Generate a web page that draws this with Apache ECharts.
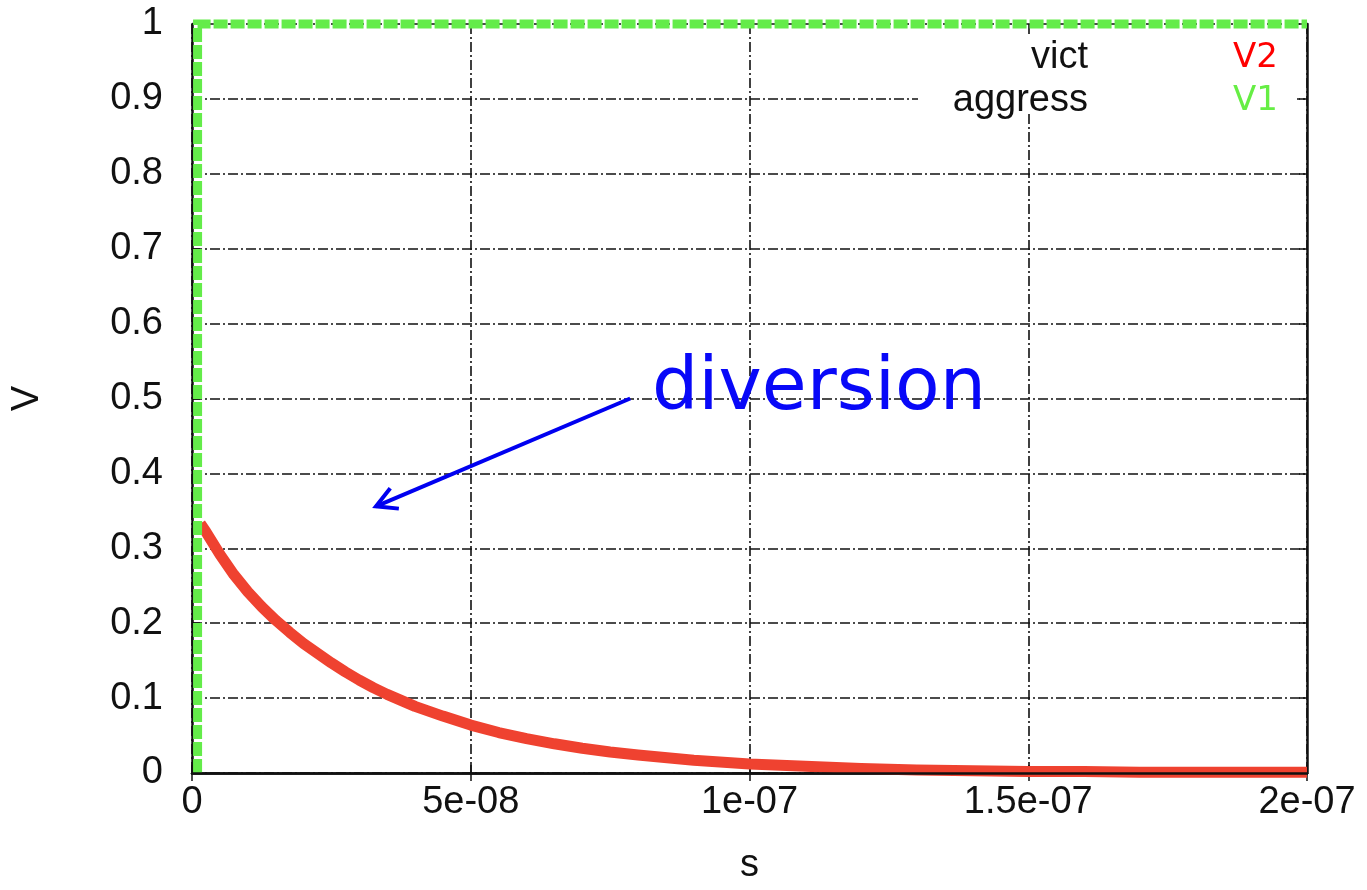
<!DOCTYPE html>
<html>
<head>
<meta charset="utf-8">
<script src="https://cdn.jsdelivr.net/npm/echarts@6/dist/echarts.min.js"></script>
<style>
html,body{margin:0;padding:0;background:#fff;}
#c{width:1367px;height:890px;}
</style>
</head>
<body>
<div id="c"></div>
<script>
// ---- data ----
const xTickLabels = ['0', '5e-08', '1e-07', '1.5e-07', '2e-07'];
const yTickLabels = ['0', '0.1', '0.2', '0.3', '0.4', '0.5', '0.6', '0.7', '0.8', '0.9', '1'];
// victim V2 (red) : time (s), voltage (V)
const v2Time = [1.5e-9, 2.5e-9, 5e-9, 7.5e-9, 1e-8, 1.25e-8, 1.5e-8, 1.75e-8, 2e-8, 2.25e-8, 2.5e-8, 2.75e-8, 3e-8, 3.25e-8, 3.5e-8, 3.75e-8, 4e-8, 4.5e-8, 5e-8, 5.5e-8, 6e-8, 6.5e-8, 7e-8, 7.5e-8, 8e-8, 9e-8, 1e-7, 1.1e-7, 1.2e-7, 1.3e-7, 1.4e-7, 1.5e-7, 1.6e-7, 1.7e-7, 1.8e-7, 1.9e-7, 2e-7];
const v2Volt = [0.333, 0.322, 0.292, 0.265, 0.242, 0.222, 0.204, 0.188, 0.173, 0.160, 0.147, 0.135, 0.124, 0.114, 0.105, 0.097, 0.089, 0.076, 0.064, 0.054, 0.046, 0.039, 0.033, 0.028, 0.024, 0.017, 0.012, 0.009, 0.006, 0.004, 0.003, 0.002, 0.002, 0.001, 0.001, 0.001, 0.001];
// aggressor V1 (green)
const v1Time = [1e-9, 1e-9, 2e-7];
const v1Volt = [0, 1, 1];
// annotation
const annoText = 'diversion';
const arrowFrom = [7.86e-8, 0.5];
const arrowTo = [3.3e-8, 0.356];
const legendNames = ['vict', 'aggress'];
const legendKeys = ['V2', 'V1'];

const RED = '#ef4230';
const GREEN = '#64ec4a';
const AXIS_FONT = 'Liberation Sans, Arial, sans-serif';
const ANNO_FONT = 'DejaVu Sans, Verdana, sans-serif';
const FS = 38;

const chart = echarts.init(document.getElementById('c'));
const gridDash = [10, 3, 2, 3];
const xStep = 5e-8;

const option = {
  animation: false,
  backgroundColor: '#fff',
  grid: {left: 192, top: 24, width: 1115, height: 749, containLabel: false},
  xAxis: [
    {
      type: 'value', min: 0, max: 2e-7, interval: xStep, position: 'bottom',
      name: 's', nameLocation: 'middle', nameGap: 74,
      nameTextStyle: {fontSize: FS, fontFamily: AXIS_FONT, color: '#111'},
      axisLine: {show: false},
      axisTick: {show: true, inside: true, length: 8, lineStyle: {color: '#111', width: 1.5}},
      axisLabel: {
        fontSize: FS, fontFamily: AXIS_FONT, color: '#111', margin: 11,
        formatter: v => xTickLabels[Math.round(v / xStep)]
      },
      splitLine: {show: true, lineStyle: {color: '#111', width: 1.6, type: gridDash}}
    },
    {
      type: 'value', min: 0, max: 2e-7, interval: xStep, position: 'top',
      axisLine: {show: true, lineStyle: {color: '#111', width: 2.5}},
      axisTick: {show: true, inside: true, length: 8, lineStyle: {color: '#111', width: 1.5}},
      axisLabel: {show: false}, splitLine: {show: false}
    },
    {
      type: 'value', min: 0, max: 2e-7, interval: xStep, position: 'bottom', z: 10,
      axisLine: {show: true, onZero: false, lineStyle: {color: '#111', width: 2.5}},
      axisTick: {show: false}, axisLabel: {show: false}, splitLine: {show: false}
    }
  ],
  yAxis: [
    {
      type: 'value', min: 0, max: 1, interval: 0.1, position: 'left',
      name: 'V', nameLocation: 'middle', nameGap: 145, nameRotate: 90,
      nameTextStyle: {fontSize: FS, fontFamily: AXIS_FONT, color: '#111'},
      axisLine: {show: true, onZero: false, lineStyle: {color: '#111', width: 2.5}},
      axisTick: {show: true, inside: true, length: 8, lineStyle: {color: '#111', width: 1.5}},
      axisLabel: {
        fontSize: FS, fontFamily: AXIS_FONT, color: '#111', margin: 29,
        formatter: v => yTickLabels[Math.round(v * 10)]
      },
      splitLine: {show: true, lineStyle: {color: '#111', width: 1.6, type: gridDash}}
    },
    {
      type: 'value', min: 0, max: 1, interval: 0.1, position: 'right',
      axisLine: {show: true, onZero: false, lineStyle: {color: '#111', width: 2.5}},
      axisTick: {show: true, inside: true, length: 8, lineStyle: {color: '#111', width: 1.5}},
      axisLabel: {show: false}, splitLine: {show: false}
    }
  ],
  series: [
    {
      name: 'V2', type: 'line', xAxisIndex: 0, yAxisIndex: 0,
      data: v2Time.map((t, i) => [t, v2Volt[i]]),
      showSymbol: false, symbol: 'none', smooth: false, clip: false, z: 3,
      lineStyle: {color: RED, width: 11, cap: 'butt', join: 'round'}
    },
    {
      name: 'V1', type: 'line', xAxisIndex: 0, yAxisIndex: 0,
      data: v1Time.map((t, i) => [t, v1Volt[i]]),
      showSymbol: false, symbol: 'none', clip: false, z: 4,
      lineStyle: {color: GREEN, width: 9, type: [14, 3], cap: 'butt', join: 'miter'}
    }
  ]
};
chart.setOption(option);

// annotations positioned in data coordinates
function px(p) { return chart.convertToPixel({gridIndex: 0}, p); }
const a0 = px(arrowFrom), a1 = px(arrowTo);
const dx = a0[0] - a1[0], dy = a0[1] - a1[1];
const L = Math.sqrt(dx * dx + dy * dy);
const ux = dx / L, uy = dy / L;
function rot(ang) {
  const c = Math.cos(ang), s = Math.sin(ang);
  return [a1[0] + 23 * (ux * c - uy * s), a1[1] + 23 * (ux * s + uy * c)];
}
const h1 = rot(0.5), h2 = rot(-0.5);
const top1 = px([0, 1]);
const rightX = px([2e-7, 0])[0];
const yRow1 = top1[1] + 34, yRow2 = top1[1] + 77;

chart.setOption({
  graphic: [
    {type: 'rect', z: 1, silent: true,
     shape: {x: 918, y: top1[1] + 12, width: rightX - 10 - 918, height: 78},
     style: {fill: '#fff'}},
    {type: 'text', z: 20, style: {text: legendNames[0], x: 1088, y: yRow1, align: 'right', verticalAlign: 'middle',
      font: FS + 'px ' + AXIS_FONT, fill: '#111'}},
    {type: 'text', z: 20, style: {text: legendNames[1], x: 1088, y: yRow2, align: 'right', verticalAlign: 'middle',
      font: FS + 'px ' + AXIS_FONT, fill: '#111'}},
    {type: 'text', z: 20, style: {text: legendKeys[0], x: 1233, y: yRow1, align: 'left', verticalAlign: 'middle',
      font: '34px ' + ANNO_FONT, fill: '#ff0000'}},
    {type: 'text', z: 20, style: {text: legendKeys[1], x: 1233, y: yRow2, align: 'left', verticalAlign: 'middle',
      font: '34px ' + ANNO_FONT, fill: '#66ee44'}},
    {type: 'line', z: 20, shape: {x1: a0[0], y1: a0[1], x2: a1[0], y2: a1[1]},
     style: {stroke: '#0000f0', lineWidth: 4}},
    {type: 'polyline', z: 20, shape: {points: [h1, a1, h2]},
     style: {stroke: '#0000f0', lineWidth: 4, fill: null, lineJoin: 'miter'}},
    {type: 'text', z: 20, style: {text: annoText, x: 652, y: 390, align: 'left', verticalAlign: 'middle',
      font: '73px ' + ANNO_FONT, fill: '#0808f8'}}
  ]
});
</script>
</body>
</html>
